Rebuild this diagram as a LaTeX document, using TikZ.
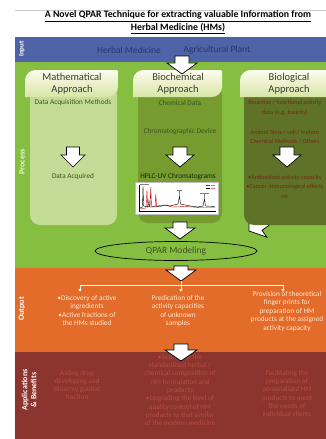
\documentclass[tikz,border=0pt]{standalone}
\usepackage{fontspec}
\setmainfont{Carlito}
\usetikzlibrary{arrows.meta,shapes.geometric}
\definecolor{inblue}{RGB}{79,100,168}
\definecolor{procgreen}{RGB}{134,190,66}
\definecolor{mathbody}{RGB}{196,219,150}
\definecolor{chembody}{RGB}{118,156,48}
\definecolor{biolbody}{RGB}{94,114,40}
\definecolor{hdtop}{RGB}{252,252,238}
\definecolor{hdbot}{RGB}{216,229,165}
\definecolor{outorange}{RGB}{228,108,42}
\definecolor{appred}{RGB}{140,52,46}
\definecolor{greentext}{RGB}{62,82,30}
\definecolor{biotext}{RGB}{118,42,20}
\definecolor{outtext}{RGB}{252,232,208}
\definecolor{apptext}{RGB}{180,78,66}
\definecolor{hdtext}{RGB}{55,60,45}
\definecolor{intext}{RGB}{42,52,105}
\begin{document}
\begin{tikzpicture}[x=1pt,y=-1pt,
  bandlabel/.style={rotate=90,text=white,font=\bfseries\fontsize{8}{9}\selectfont,align=center},
  blockarrow/.style={fill=white,draw=black,line width=0.7pt,line join=miter},
  header/.style={top color=hdtop,bottom color=hdbot,draw=none},
  hdlabel/.style={text=hdtext,font=\fontsize{10.5}{12}\selectfont,align=center},
  coltext/.style={text=greentext,font=\fontsize{7.3}{9.5}\selectfont,align=center,inner sep=0},
  biotxt/.style={text=biotext,font=\fontsize{6.2}{9.6}\selectfont,align=center,inner sep=0},
  outtxt/.style={text=outtext,font=\fontsize{7.3}{8.5}\selectfont,align=center,inner sep=0},
  apptxt/.style={text=apptext,font=\fontsize{7.2}{8.3}\selectfont,align=center,inner sep=0},
  outarrow/.style={draw=white,line width=0.9pt,-{Latex[length=3pt,width=3.5pt]}},
  pics/dnarrow/.style n args={4}{code={
    \path[blockarrow] (-#1,0) -- (#1,0) -- (#1,#3) -- (#2,#3) -- (0,#3+#4) -- (-#2,#3) -- (-#1,#3) -- cycle;}}
]
\useasboundingbox (0,0) rectangle (326,439);
\clip (0,0) rectangle (326,439);
\fill[white] (0,0) rectangle (326,439);

% title
\draw[gray!40,line width=0.4pt] (15,10) -- (326,10);
\node[font=\bfseries\fontsize{9.8}{12.5}\selectfont,align=center] (title) at (178,22.5)
  {\underline{A Novel QPAR Technique for extracting valuable Information from}\\\underline{Herbal Medicine (HMs)}};

% bands
\fill[inblue] (15,37) rectangle (326,62);
\fill[procgreen] (15,62) rectangle (326,268);
\fill[outorange] (15,268) rectangle (326,352);
\fill[appred] (15,352) rectangle (326,439);

\node[bandlabel,font=\bfseries\fontsize{7}{8}\selectfont] (lin) at (22,49) {Input};
\node[bandlabel,text={rgb,255:red,235;green,246;blue,220}] (lproc) at (22,162) {Process};
\node[bandlabel] (lout) at (22,309) {Output};
\node[bandlabel] (lapp) at (29,390) {Applications\\\& Benefits};

% input texts
\node[text=intext,font=\fontsize{9.5}{11}\selectfont] (herb) at (129,50) {Herbal Medicine};
\node[text=intext,font=\fontsize{9.5}{11}\selectfont] (agri) at (217,50) {Agricultural Plant};

% diagonal arrow (behind biological box)
\path[blockarrow] (249,231) -- (266.9,237.2) -- (262.0,230.3) -- (277.4,219.3) -- (269.2,207.9) -- (253.8,218.9) -- (248.9,212.0) -- cycle;

% column bodies
\fill[mathbody,rounded corners=10pt] (30,85) rectangle (117,225);
\fill[chembody,rounded corners=10pt] (138,85) rectangle (222,223);
\fill[biolbody,rounded corners=10pt] (244,85) rectangle (345,225);

% headers
\path[header] (25,97) -- (25,80) .. controls (25,74.5) and (30.5,70) .. (35,70) -- (115,70) .. controls (118,70) .. (118,73) -- (118,87) .. controls (118,92.5) and (113.5,97) .. (108,97) -- cycle;
\path[header] (133,97) -- (133,80) .. controls (133,74.5) and (138.5,70) .. (143,70) -- (219,70) .. controls (222,70) .. (222,73) -- (222,87) .. controls (222,92.5) and (217.5,97) .. (212,97) -- cycle;
\path[header] (240,97) -- (240,80) .. controls (240,74.5) and (245.5,70) .. (250,70) -- (337,70) .. controls (340,70) .. (340,73) -- (340,87) .. controls (340,92.5) and (335.5,97) .. (330,97) -- cycle;
\node[hdlabel] (hmath) at (72,84) {Mathematical\\Approach};
\node[hdlabel] (hchem) at (178,84) {Biochemical\\Approach};
\node[hdlabel] (hbio) at (289,84) {Biological\\Approach};

% input arrow
\pic at (182,56) {dnarrow={7}{15}{7}{11}};

% mathematical column
\node[coltext] (m1) at (73,103) {Data Acquisition Methods};
\pic at (73,147) {dnarrow={6.5}{12}{8}{12}};
\node[coltext] (m2) at (73,177) {Data Acquired};

% biochemical column
\node[coltext] (c1) at (180,103) {Chemical Data};
\node[coltext] (c2) at (180,132) {Chromatographic Device};
\pic at (180,147) {dnarrow={7}{14}{8}{12}};
\node[coltext,text={rgb,255:red,25;green,35;blue,15}] (c3) at (178,177) {HPLC-UV Chromatograms};
\node[draw=gray!50,fill=white,minimum width=83pt,minimum height=32pt,inner sep=0,line width=0.3pt] (chrom) at (176.5,198) {};
\draw[black,line width=0.3pt] (139,185) -- (139,211) -- (216,211);
\draw[gray,line width=0.6pt] (140,184.5) -- (149,184.5);
\draw[red!80!black,line width=0.4pt] (206,185) -- (210,185);
\draw[black,line width=0.4pt] (206,188) -- (210,188);
\draw[red!60,line width=0.3pt] (211,185) -- (215,185) (211,188) -- (215,188);
\draw[red!85!black,line width=0.4pt] (140,209) -- (146,208) -- (147,190) -- (147.6,207) -- (150,206) -- (150.8,187) -- (151.5,206) -- (155,207) -- (155.8,194) -- (156.5,206) -- (165,205) -- (172,207) -- (185,206.5) -- (200,207.5) -- (215,207.5);
\draw[black,line width=0.4pt] (140,208) -- (142.5,207) -- (143,186) -- (143.6,206) -- (148,207) -- (149,200) -- (149.5,207) -- (160,206.5) -- (165,205) -- (170,206) -- (178,204) -- (179.5,196) -- (180.5,204) -- (190,206) -- (198,207) -- (203,206) -- (204.5,199) -- (205.5,206) -- (215,206.5);
\draw[gray,line width=0.3pt] (179.5,191) -- (179.5,195) (204.5,194) -- (204.5,198);
\draw[gray,line width=0.6pt] (177,190) -- (182,190) (200,193) -- (209,193);

% biological column
\node[biotxt] (b1) at (285,108) {Bioactive / functional activity\\data (e.g. toxicity)};
\node[biotxt] (b2) at (285,137) {Animal Tests / cell / Inetero\\Chemical Methods / Others};
\pic at (287,147) {dnarrow={7}{14}{8}{12}};
\node[biotxt] (b3) at (285,186.5) {•Antioxidant activity capacity\\•Cancer immunological effects\\etc};

% chromatogram -> QPAR
\pic at (180,222) {dnarrow={7}{15}{6}{11}};
\node[draw=black,line width=0.7pt,ellipse,minimum width=162pt,minimum height=19pt,inner sep=0,text=greentext,font=\fontsize{9.5}{11}\selectfont] (qpar) at (176,251) {QPAR Modeling};

% QPAR -> output
\pic at (181,266) {dnarrow={7}{15}{4}{11}};

% output branching
\coordinate (barL) at (80,285);
\coordinate (barM) at (181,285);
\coordinate (barR) at (283,285);
\draw[white,line width=0.9pt] (barL) -- (barR);
\draw[white,line width=0.9pt] (181,281) -- (barM);
\node[outtxt,anchor=north] (o1) at (87,295) {•Discovery of active\\ingredients\\•Active fractions of\\the HMs studied};
\node[outtxt,anchor=north] (o2) at (178,295) {Predication of the\\activity capacities\\of unknown\\samples};
\node[outtxt,anchor=north] (o3) at (287,291) {Provision of theoretical\\finger prints for\\preparation of HM\\products at the assigned\\activity capacity};
\coordinate (tL) at (80,292);
\coordinate (tM) at (181,292);
\coordinate (tR) at (283,292);
\draw[outarrow] (barL) -- (tL);
\draw[outarrow] (barM) -- (tM);
\draw[outarrow] (barR) -- (tR);

% applications
\node[apptxt] (a1) at (77,385) {Aiding drug\\developing and\\bioarray guided\\fraction};
\node[apptxt] (a2) at (180,390) {•Setting up the\\standardized herbal /\\chemical composition of\\HM formulation and\\products\\•Upgrading the level of\\quality control of HM\\products to that similar\\of the modern medicine};
\node[apptxt] (a3) at (287,393.5) {Facilitating the\\preparation of\\personalized HM\\products to meet\\the needs of\\individual clients};

% output -> applications
\pic at (181,344) {dnarrow={7}{16}{6}{11}};
\end{tikzpicture}
\end{document}
